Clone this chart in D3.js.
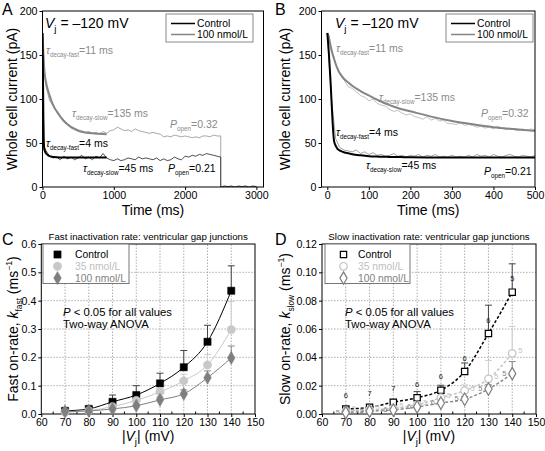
<!DOCTYPE html>
<html><head><meta charset="utf-8">
<script src="https://cdn.jsdelivr.net/npm/d3@7"></script>
<style>
body{margin:0;background:#fff}
svg{display:block}
text{font-family:"Liberation Sans",Arial,Helvetica,sans-serif}
</style>
</head><body>
<svg id="c" width="545" height="451"></svg>
<script>
// ---------- DATA ----------
// Panels A/B: fitted current decays (pA) vs time (ms)
const fitT    = [0,4,8,12,16,20,24,28,32,40,50,60,80,100,125,150,175,200,250,300,350,400,450,500,600,700,800,900];
const fitCtrl = [175,150,118,80,53,47,43.7,42,41,39.5,38.3,37.3,36,35,34.5,34.2,34,33.8,33.6,33.5,33.5,33.5,33.5,33.5,33.5,33.5,33.5,33.5];
const fit100  = [175,170,160,152,146,140,135,131,128,123,119,115,109,104,98,93,89,86,80,75,71.2,68,65.8,63.8,62,61,60.5,60];

// Panel A: raw recordings (pA), 0–2500 ms, then tail after the pulse
const rawAT = [0,10,20,30,50,75,100,150,200,250,300,350,400,450,500,550,600,650,700,750,800,850,900,950,1000,1050,1100,1150,1200,1250,1300,1350,1400,1450,1500,1550,1600,1650,1700,1750,1800,1850,1900,1950,2000,2050,2100,2150,2200,2250,2300,2350,2400,2450,2500];
const rawACtrl = [175,100,55,45,41,38,35,33,34,31,35,32,34,31,33,36,32,34,31,35,33,38,33,31,30,32,30,31,33,32,31,34,32,33,32,31,33,30,32,30,31,34,32,31,35,34,36,35,37,36,38,37,36,35,34];
const rawA100  = [175,158,140,128,114,106,98,92,86,80,76,72,69,67,65,64,62,63,61,62,60,63,61,64,65,68,66,64,65,63,66,64,63,62,61,62,61,60,57,58,57,59,58,57,58,57,56,57,56,58,58,57,59,58,58];
const tailT = [2500,2550,2600,2650,2700,2750,2800,2850,2900,2950,3000];
const tailV = [0,1,0.5,1,0,1,0.5,1,0,1,0.5];

// Panel B: raw recordings (pA), 0–500 ms
const rawBT = [0,10,20,30,40,50,60,70,80,90,100,110,120,130,140,150,160,170,180,190,200,210,220,230,240,250,260,270,280,290,300,310,320,330,340,350,360,370,380,390,400,410,420,430,440,450,460,470,480,490,500];
const rawB100  = [175,158,140,128,122,114,112,108,104,102,98,100,95,93,92,88,86,87,84,82,83,80,79,77,80,76,78,75,76,72,72,71,73,70,71,70,68,69,67,68,66,69,67,65,67,65,64,66,64,66,65];
const rawBCtrl = [175,100,55,45,42,41,40,42,38,40,37,39,36,37,35,36,38,35,36,34,36,35,37,34,36,35,37,34,35,34,36,34,35,34,36,34,37,35,36,34,37,35,34,36,37,35,34,36,35,34,36];

// Panels C/D: rates vs |Vj|
const vj = [70,80,90,100,110,120,130,140];
const kFastCtrl    = [0.011,0.018,0.043,0.067,0.108,0.165,0.255,0.435];
const kFastCtrlErr = [0.002,0.007,0.024,0.033,0.036,0.059,0.058,0.088];
const kFast35      = [0.006,0.012,0.026,0.048,0.078,0.117,0.173,0.298];
const kFast35Err   = [0.003,0.004,0.006,0.010,0.012,0.023,0.037,0.099];
const kFast100     = [0.009,0.011,0.018,0.029,0.050,0.071,0.128,0.198];
const kFast100Err  = [0.003,0.002,0.004,0.006,0.010,0.014,0.024,0.042];

const kSlowCtrl    = [0.0035,0.0047,0.0083,0.0115,0.0168,0.030,0.0568,0.086];
const kSlowCtrlErr = [0.0015,0.0015,0.002,0.0043,0.0035,0.006,0.020,0.020];
const kSlow35      = [0.002,0.003,0.004,0.0065,0.0115,0.0165,0.0248,0.0428];
const kSlow35Err   = [0.001,0.001,0.001,0.002,0.003,0.004,0.013,0.019];
const kSlow100     = [0.001,0.002,0.0028,0.005,0.0078,0.0104,0.0176,0.0285];
const kSlow100Err  = [0.0005,0.0005,0.001,0.001,0.002,0.002,0.003,0.0085];
const nCtrl = [6,7,7,6,6,6,6,5];
const n35   = [5,5,5,5,5,5,5,5];
const n100  = [5,5,6,6,6,5,5,5];

const ticksAX = [0,1000,2000,3000];
const ticksBX = [0,100,200,300,400,500];
const ticksABY = [0,50,100,150,200];
const ticksCDX = [60,70,80,90,100,110,120,130,140,150];
const ticksCY = [0,0.1,0.2,0.3,0.4,0.5,0.6];
const ticksDY = [0,0.02,0.04,0.06,0.08,0.10,0.12];

// ---------- HELPERS ----------
const svg = d3.select('#c');
const GRAY = '#8a8a8a';
const TICK = 10.6, ANN = 10.5, LEG = 10.3, TITLE = 14;

function rich(sel, x, y, parts, size, color, anchor, rotate) {
  const t = sel.append('text').attr('x', x).attr('y', y)
    .attr('font-size', size).attr('fill', color || '#000')
    .attr('text-anchor', anchor || 'start');
  if (rotate) t.attr('transform', `rotate(-90,${x},${y})`);
  let shift = 0;
  parts.forEach(p => {
    const ts = t.append('tspan').text(p.t);
    let target = 0, fs = size;
    if (p.sub) { target = size * 0.32; fs = size * (p.fs || 0.6); }
    if (p.sup) { target = -size * 0.42; fs = size * 0.62; }
    ts.attr('dy', target - shift).attr('font-size', fs);
    if (p.i) ts.attr('font-style', 'italic');
    shift = target;
  });
  return t;
}

function axes(x, y, xt, yt, yfmt, xfmt) {
  const [x0, x1] = x.range(), [y0, y1] = y.range();
  const g = svg.append('g');
  const ax = g.append('g').attr('transform', `translate(0,${y0})`)
    .call(d3.axisBottom(x).tickValues(xt).tickSize(3).tickPadding(1.5).tickSizeOuter(0).tickFormat(xfmt || d3.format('d')));
  const ay = g.append('g').attr('transform', `translate(${x0},0)`)
    .call(d3.axisLeft(y).tickValues(yt).tickSize(3).tickPadding(2).tickSizeOuter(0).tickFormat(yfmt || d3.format('d')));
  [ax, ay].forEach(a => {
    a.select('.domain').remove();
    a.selectAll('text').attr('font-size', TICK).attr('fill', '#000')
      .style('font-family', '"Liberation Sans",Arial,sans-serif');
    a.selectAll('line').attr('stroke', '#000');
  });
  g.append('rect').attr('x', x0).attr('y', y1).attr('width', x1 - x0).attr('height', y0 - y1)
    .attr('fill', 'none').attr('stroke', '#000').attr('stroke-width', 1);
  return g;
}

function pairs(t, v) { return t.map((d, i) => [d, v[i]]); }

function tracePanel(o) {
  const x = d3.scaleLinear().domain(o.xd).range(o.xr);
  const y = d3.scaleLinear().domain([0, 200]).range([187, 11]);
  svg.append('clipPath').attr('id', o.id).append('rect')
    .attr('x', o.xr[0]).attr('y', 11).attr('width', o.xr[1] - o.xr[0]).attr('height', 176);
  const line = d3.line().x(d => x(d[0])).y(d => y(d[1]));
  const sline = d3.line().curve(d3.curveMonotoneX).x(d => x(d[0])).y(d => y(d[1]));
  const g = svg.append('g').attr('clip-path', `url(#${o.id})`);
  g.append('path').attr('d', line(o.raw100)).attr('fill', 'none').attr('stroke', o.c100).attr('stroke-width', 0.8);
  g.append('path').attr('d', line(o.rawCtrl)).attr('fill', 'none').attr('stroke', o.cCtrl).attr('stroke-width', 0.8);
  g.append('path').attr('d', sline(pairs(fitT, fit100))).attr('fill', 'none').attr('stroke', '#858585').attr('stroke-width', 2);
  g.append('path').attr('d', sline(pairs(fitT, fitCtrl))).attr('fill', 'none').attr('stroke', '#000').attr('stroke-width', 2);
  axes(x, y, o.xt, ticksABY);

  const ox = o.ox;
  svg.append('text').attr('x', ox + 2).attr('y', 15).attr('font-size', 16).text(o.letter);
  rich(svg, o.vjx, 27.5, [{t:'V', i:true}, {t:'j', sub:true, fs:0.7}, {t:' = \u2013120 mV'}], 14);
  const L = o.leg;
  svg.append('rect').attr('x', L).attr('y', 14).attr('width', 87).attr('height', 28)
    .attr('fill', '#fff').attr('stroke', '#888').attr('stroke-width', 1);
  svg.append('line').attr('x1', L + 5).attr('x2', L + 29).attr('y1', 23.5).attr('y2', 23.5).attr('stroke', '#000').attr('stroke-width', 1.5);
  svg.append('line').attr('x1', L + 5).attr('x2', L + 29).attr('y1', 34.5).attr('y2', 34.5).attr('stroke', '#858585').attr('stroke-width', 1.5);
  svg.append('text').attr('x', L + 31).attr('y', 27).attr('font-size', LEG).text('Control');
  svg.append('text').attr('x', L + 31).attr('y', 38).attr('font-size', LEG).text('100 nmol/L');

  o.ann.forEach(a => {
    const parts = a.tau
      ? [{t:'\u03c4', i:true}, {t:a.sub, sub:true}, {t:'=' + a.v}]
      : [{t:'P', i:true}, {t:'open', sub:true}, {t:'=' + a.v}];
    rich(svg, a.x, a.y, parts, ANN, a.c);
  });

  svg.append('text').attr('transform', `translate(${ox + 17},99) rotate(-90)`).attr('text-anchor', 'middle')
    .attr('font-size', TITLE).text('Whole cell current (pA)');
  svg.append('text').attr('x', (o.xr[0] + o.xr[1]) / 2).attr('y', 215).attr('text-anchor', 'middle').attr('font-size', TITLE).text('Time (ms)');
}

// ================= PANEL A =================
tracePanel({
  id: 'clipA', letter: 'A', ox: 0, xd: [0, 3100], xr: [42.5, 263.5], xt: ticksAX, vjx: 45, leg: 166,
  raw100: pairs(rawAT, rawA100).concat(pairs(tailT, tailV)),
  rawCtrl: pairs(rawAT, rawACtrl).concat(pairs(tailT, tailV)),
  c100: '#909090', cCtrl: '#222',
  ann: [
    {tau:true, sub:'decay-fast', v:'11 ms', x:46, y:53.5, c:GRAY},
    {tau:true, sub:'decay-slow', v:'135 ms', x:72, y:117, c:GRAY},
    {tau:false, v:'0.32', x:170, y:128, c:GRAY},
    {tau:true, sub:'decay-fast', v:'4 ms', x:46, y:147, c:'#000'},
    {tau:true, sub:'decay-slow', v:'45 ms', x:83, y:172, c:'#000'},
    {tau:false, v:'0.21', x:168, y:172, c:'#000'}
  ]
});

// ================= PANEL B =================
tracePanel({
  id: 'clipB', letter: 'B', ox: 273, xd: [-14, 500], xr: [321.5, 535], xt: ticksBX, vjx: 335, leg: 446,
  raw100: pairs(rawBT, rawB100), rawCtrl: pairs(rawBT, rawBCtrl),
  c100: '#b0b0b0', cCtrl: '#8a8a8a',
  ann: [
    {tau:true, sub:'decay-fast', v:'11 ms', x:336, y:52, c:GRAY},
    {tau:true, sub:'decay-slow', v:'135 ms', x:379, y:101, c:GRAY},
    {tau:false, v:'0.32', x:481, y:117, c:GRAY},
    {tau:true, sub:'decay-fast', v:'4 ms', x:336, y:136, c:'#000'},
    {tau:true, sub:'decay-slow', v:'45 ms', x:366, y:168.5, c:'#000'},
    {tau:false, v:'0.21', x:484, y:175, c:'#000'}
  ]
});

// ================= PANELS C / D =================
function ratePanel(opt) {
  const x = d3.scaleLinear().domain([60, 150]).range(opt.xr);
  const y = d3.scaleLinear().domain([0, opt.ymax]).range([414, 244]);
  const grid = svg.append('g').attr('stroke', '#9a9a9a').attr('stroke-width', 0.8).attr('stroke-dasharray', '1.5,1.5');
  vj.forEach(v => grid.append('line').attr('x1', x(v)).attr('x2', x(v)).attr('y1', 414).attr('y2', 244));
  opt.yt.slice(1, -1).forEach(v => grid.append('line').attr('x1', opt.xr[0]).attr('x2', opt.xr[1]).attr('y1', y(v)).attr('y2', y(v)));
  axes(x, y, ticksCDX, opt.yt, opt.yfmt);
  const mt = svg.append('g').attr('stroke', '#000');
  [65,75,85,95,105,115,125,135,145].forEach(v => mt.append('line').attr('x1', x(v)).attr('x2', x(v)).attr('y1', 414).attr('y2', 411.5));

  const series = opt.series;
  series.forEach(s => {
    const eg = svg.append('g').attr('stroke', s.errColor).attr('stroke-width', 1);
    vj.forEach((v, i) => {
      const top = y(s.vals[i] + s.err[i]);
      eg.append('line').attr('x1', x(v)).attr('x2', x(v)).attr('y1', y(s.vals[i])).attr('y2', top);
      eg.append('line').attr('x1', x(v) - 3.5).attr('x2', x(v) + 3.5).attr('y1', top).attr('y2', top);
    });
  });
  series.forEach(s => {
    svg.append('path')
      .attr('d', d3.line().curve(d3.curveMonotoneX).x((d, i) => x(vj[i])).y(d => y(d))(s.vals))
      .attr('fill', 'none').attr('stroke', s.lineColor).attr('stroke-width', opt.dashed ? 1.5 : 1)
      .attr('stroke-dasharray', opt.dashed ? '3,2' : null);
  });
  series.forEach(s => {
    const sym = d3.symbol().type(s.shape).size(s.size);
    vj.forEach((v, i) => {
      svg.append('path').attr('d', sym()).attr('transform', `translate(${x(v)},${y(s.vals[i])})`)
        .attr('fill', opt.open ? '#fff' : s.color).attr('stroke', s.color).attr('stroke-width', opt.open ? 1.2 : 0.5);
    });
  });
  if (opt.nlabels) {
    series.forEach(s => {
      vj.forEach((v, i) => {
        svg.append('text').attr('x', x(v) + s.ndx).attr('y', y(s.vals[i]) + s.ndy)
          .attr('font-size', 7.5).attr('text-anchor', 'middle').attr('fill', s.nColor).text(s.n[i]);
      });
    });
  }
  const L = opt.legend;
  svg.append('rect').attr('x', L.x).attr('y', 244).attr('width', L.w).attr('height', 39.5)
    .attr('fill', '#fff').attr('stroke', '#777').attr('stroke-width', 1);
  series.forEach((s, k) => {
    const cy = 254.5 + k * 11.8;
    svg.append('path').attr('d', d3.symbol().type(s.shape).size(s.size)())
      .attr('transform', `translate(${L.mx},${cy})`)
      .attr('fill', opt.open ? '#fff' : s.color).attr('stroke', s.color).attr('stroke-width', opt.open ? 1.2 : 0.5);
    svg.append('text').attr('x', L.tx).attr('y', cy + 3.7).attr('font-size', LEG)
      .attr('fill', s.textColor).text(s.label);
  });
  rich(svg, opt.px, 316, [{t:'P', i:true}, {t:' < 0.05 for all values'}], 11.3, '#000');
  svg.append('text').attr('x', opt.px).attr('y', 327.5).attr('font-size', 11.3).text('Two-way ANOVA');
  svg.append('text').attr('x', (opt.xr[0] + opt.xr[1]) / 2).attr('y', 240).attr('text-anchor', 'middle')
    .attr('font-size', 9.7).text(opt.title);
  svg.append('text').attr('x', opt.letterX).attr('y', 245).attr('font-size', 16).text(opt.letter);
  rich(svg, (opt.xr[0] + opt.xr[1]) / 2, 440.5, [{t:'|'}, {t:'V', i:true}, {t:'j', sub:true, fs:0.7}, {t:'| (mV)'}], 13.8, '#000', 'middle');
  rich(svg, opt.ylx, 329, opt.ylabel, 14, '#000', 'middle', true);
}

ratePanel({
  xr: [41.3, 255], ymax: 0.6, yt: ticksCY, yfmt: d3.format('.1f'), open: false, dashed: false,
  title: 'Fast inactivation rate: ventricular gap junctions', letter: 'C', letterX: 2,
  px: 63, ylx: 18,
  ylabel: [{t:'Fast on-rate, '}, {t:'k', i:true}, {t:'fast', sub:true}, {t:' (ms'}, {t:'\u22121', sup:true}, {t:')'}],
  legend: {x: 43, w: 86, mx: 57.5, tx: 75},
  series: [
    {label:'Control', vals:kFastCtrl, err:kFastCtrlErr, color:'#000', lineColor:'#000', errColor:'#444', textColor:'#000', shape:d3.symbolSquare, size:52},
    {label:'35 nmol/L', vals:kFast35, err:kFast35Err, color:'#c8c8c8', lineColor:'#c8c8c8', errColor:'#cfcfcf', textColor:'#c0c0c0', shape:d3.symbolCircle, size:55},
    {label:'100 nmol/L', vals:kFast100, err:kFast100Err, color:'#7f7f7f', lineColor:'#7f7f7f', errColor:'#8a8a8a', textColor:'#7f7f7f', shape:d3.symbolDiamond, size:50}
  ]
});

ratePanel({
  xr: [322, 536], ymax: 0.12, yt: ticksDY, yfmt: d3.format('.2f'), open: true, dashed: true, nlabels: true,
  title: 'Slow inactivation rate: ventricular gap junctions', letter: 'D', letterX: 275,
  px: 345, ylx: 290,
  ylabel: [{t:'Slow on-rate, '}, {t:'k', i:true}, {t:'slow', sub:true}, {t:' (ms'}, {t:'\u22121', sup:true}, {t:')'}],
  legend: {x: 325, w: 85, mx: 343.5, tx: 358},
  series: [
    {label:'Control', vals:kSlowCtrl, err:kSlowCtrlErr, color:'#000', lineColor:'#000', errColor:'#444', textColor:'#000', shape:d3.symbolSquare, size:40, n:nCtrl, nColor:'#222', ndx:0, ndy:-11},
    {label:'35 nmol/L', vals:kSlow35, err:kSlow35Err, color:'#c4c4c4', lineColor:'#c4c4c4', errColor:'#cfcfcf', textColor:'#c0c0c0', shape:d3.symbolCircle, size:45, n:n35, nColor:'#c4c4c4', ndx:8, ndy:0},
    {label:'100 nmol/L', vals:kSlow100, err:kSlow100Err, color:'#7f7f7f', lineColor:'#8a8a8a', errColor:'#8a8a8a', textColor:'#7f7f7f', shape:d3.symbolDiamond, size:45, n:n100, nColor:'#7f7f7f', ndx:-8, ndy:2}
  ]
});
</script>
</body></html>
